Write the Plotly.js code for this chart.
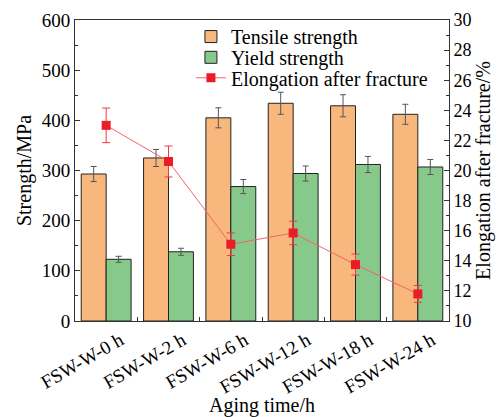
<!DOCTYPE html>
<html>
<head>
<meta charset="utf-8">
<script src="https://cdn.plot.ly/plotly-3.0.1.min.js"></script>
<style>html,body{margin:0;padding:0;background:#fff;}#chart{width:502px;height:417px;}</style>
</head>
<body>
<div id="chart"></div>
<script>
const categories = ["FSW-W-0 h","FSW-W-2 h","FSW-W-6 h","FSW-W-12 h","FSW-W-18 h","FSW-W-24 h"];
const tensile = [293, 325, 405, 434, 429, 412];
const tensileErr = [15, 17, 20, 22, 22, 20];
const yieldS = [123, 138, 268, 294, 312, 307];
const yieldErr = [6, 7, 14, 15, 16, 15];
const elongation = [23.0, 20.6, 15.1, 15.85, 13.75, 11.8];
const elongationErr = [1.15, 1.03, 0.75, 0.78, 0.7, 0.56];

const font = "'Liberation Serif','Times New Roman',serif";
const txt = "#000";

const traces = [
  {type:"bar", name:"Tensile strength", x:categories, y:tensile, legend:"legend",
   marker:{color:"#F8B77C", line:{color:"#222222", width:1}},
   error_y:{type:"data", array:tensileErr, visible:true, color:"#555555", thickness:1, width:3}},
  {type:"bar", name:"Yield strength", x:categories, y:yieldS, legend:"legend2",
   marker:{color:"#86C98A", line:{color:"#222222", width:1}},
   error_y:{type:"data", array:yieldErr, visible:true, color:"#555555", thickness:1, width:3}},
  {type:"scatter", mode:"lines+markers", name:"Elongation after fracture", x:categories, y:elongation, yaxis:"y2", legend:"legend3",
   line:{color:"#F26468", width:1},
   marker:{symbol:"square", size:9, color:"#EC1C24"},
   error_y:{type:"data", array:elongationErr, visible:true, color:"#EE3A40", thickness:1, width:4}}
];

function leg(y){
  return {x:0.31, y:y, xanchor:"left", yanchor:"middle", bgcolor:"rgba(0,0,0,0)",
          font:{family:font, size:20, color:txt}, itemwidth:30, borderwidth:0};
}

const layout = {
  width:502, height:417,
  margin:{l:75, r:53, t:20, b:96},
  paper_bgcolor:"#fff", plot_bgcolor:"#fff",
  font:{family:font, size:19, color:txt},
  barmode:"group", bargap:0.2, bargroupgap:0,
  showlegend:true,
  legend:leg(0.945),
  legend2:leg(0.876),
  legend3:leg(0.808),
  xaxis:{type:"category", range:[-0.5,5.5], tickangle:-30, tickson:"boundaries",
         ticks:"inside", ticklen:4, tickcolor:"#333", showline:true, linecolor:"#333", linewidth:1,
         mirror:true, showgrid:false, zeroline:false, ticklabelshift:14,
         tickfont:{family:font, size:19, color:txt},
         title:{text:"Aging time/h", font:{family:font, size:20, color:txt}, standoff:10}},
  yaxis:{range:[0,600], dtick:100, ticks:"inside", ticklen:5, tickcolor:"#333",
         showline:true, linecolor:"#333", linewidth:1, showgrid:false, zeroline:false,
         tickfont:{family:font, size:19, color:txt},
         minor:{dtick:50, ticks:"inside", ticklen:3, tickcolor:"#333"},
         title:{text:"Strength/MPa", font:{family:font, size:20, color:txt}, standoff:4}},
  yaxis2:{range:[10,30], dtick:2, overlaying:"y", side:"right", ticks:"inside", ticklen:5, tickcolor:"#333",
          showline:true, linecolor:"#333", linewidth:1, showgrid:false, zeroline:false,
          tickfont:{family:font, size:18, color:txt},
          minor:{dtick:1, ticks:"inside", ticklen:3, tickcolor:"#333"},
          title:{text:"Elongation after fracture/%", font:{family:font, size:20, color:txt}, standoff:4}}
};

Plotly.newPlot("chart", traces, layout, {displayModeBar:false, staticPlot:true});
</script>
</body>
</html>
